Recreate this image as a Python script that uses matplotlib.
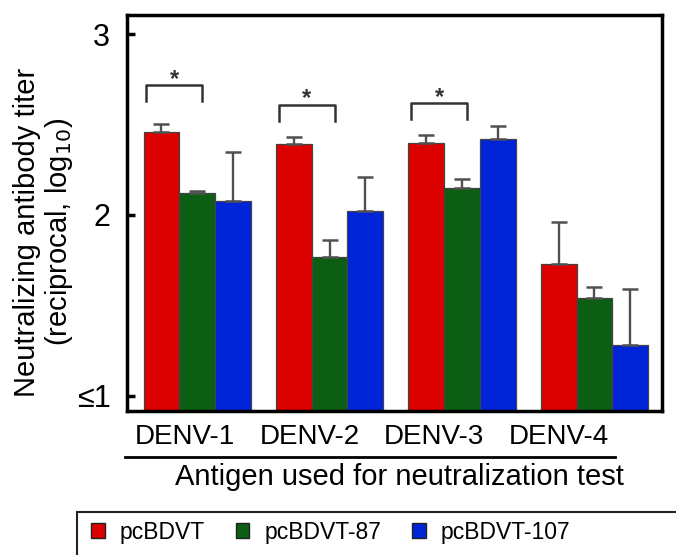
import matplotlib
matplotlib.use('Agg')
import matplotlib.pyplot as plt
from matplotlib.patches import Rectangle, Patch
from matplotlib.lines import Line2D
import numpy as np

plt.rcParams['font.family'] = ['Liberation Sans', 'DejaVu Sans']

# log10 neutralizing titers, mean and SD per antigen
antigens = ['DENV-1', 'DENV-2', 'DENV-3', 'DENV-4']
vaccines = ['pcBDVT', 'pcBDVT-87', 'pcBDVT-107']
titer_wt = [2.46, 2.39, 2.40, 1.73]
titer_87 = [2.12, 1.77, 2.15, 1.54]
titer_107 = [2.08, 2.02, 2.42, 1.28]
sd_wt = [0.04, 0.04, 0.044, 0.23]
sd_87 = [0.011, 0.09, 0.05, 0.06]
sd_107 = [0.27, 0.19, 0.07, 0.31]
colors = ['#dc0000', '#0b5e14', '#0024d8']

# significance brackets (antigen index, height)
sig_idx = [0, 1, 2]
sig_y = [2.72, 2.61, 2.62]

W, H = 676, 555
fig = plt.figure(figsize=(W / 100, H / 100), dpi=100)
ax = fig.add_axes([127 / W, 144 / H, 535 / W, 396 / H])

x = np.arange(len(antigens))
bw = 0.27
for k, (vals, sds) in enumerate([(titer_wt, sd_wt), (titer_87, sd_87), (titer_107, sd_107)]):
    ax.bar(x + (k - 1) * bw, vals, bw, color=colors[k], edgecolor='#444444', linewidth=0.9,
           yerr=[np.zeros(len(sds)), sds], capsize=5.5,
           error_kw=dict(ecolor='#505050', elinewidth=1.7, capthick=1.8), zorder=2)

for i, yy in zip(sig_idx, sig_y):
    x0, x1 = i - 0.385, i + 0.04
    ax.plot([x0, x0, x1, x1], [yy - 0.09, yy, yy, yy - 0.09], color='#333333', lw=1.8,
            solid_joinstyle='round', zorder=3)
    ax.text((x0 + x1) / 2, yy - 0.005, '*', ha='center', va='baseline', fontsize=17,
            fontweight='bold', color='#333333')

ax.set_xlim(-0.53, 3.51)
ax.set_ylim(0.917, 3.105)
ax.set_yticks([1, 2, 3])
ax.set_yticklabels(['≤1', '2', '3'])
ax.tick_params(axis='y', direction='in', length=6, width=2.5, labelsize=22, pad=12)

# antigen names sit on an even grid, slightly left of the bar groups
ax.set_xticks(-0.09 + 0.94 * x)
ax.set_xticklabels(antigens)
ax.tick_params(axis='x', length=0, labelsize=20, pad=9)

for s in ax.spines.values():
    s.set_linewidth(2.5)

fig.text(44 / W, 1 - 232 / H, 'Neutralizing antibody titer\n(reciprocal, log$_{10}$)',
         rotation=90, ha='center', va='center', multialignment='center', fontsize=21,
         linespacing=1.05)

fig.add_artist(Line2D([125 / W, 615 / W], [1 - 457 / H] * 2, color='black', lw=2))
fig.text(399 / W, 1 - 477 / H, 'Antigen used for neutralization test', ha='center', va='center',
         fontsize=21)

# legend strip along the bottom
fig.add_artist(Rectangle((77 / W, -0.1), 1.0, 0.1 + (H - 512) / H, transform=fig.transFigure,
                         fill=False, edgecolor='#222222', lw=1.5))
handles = [Patch(facecolor=c, edgecolor='#222222', lw=1) for c in colors]
fig.legend(handles, vaccines, loc='center left', bbox_to_anchor=(91 / W, 1 - 532 / H), ncol=3,
           frameon=False, fontsize=16.5, handlelength=0.6, handleheight=0.6,
           handletextpad=0.65, columnspacing=1.35, borderaxespad=0, borderpad=0)

fig.savefig('out.png', dpi=100)
